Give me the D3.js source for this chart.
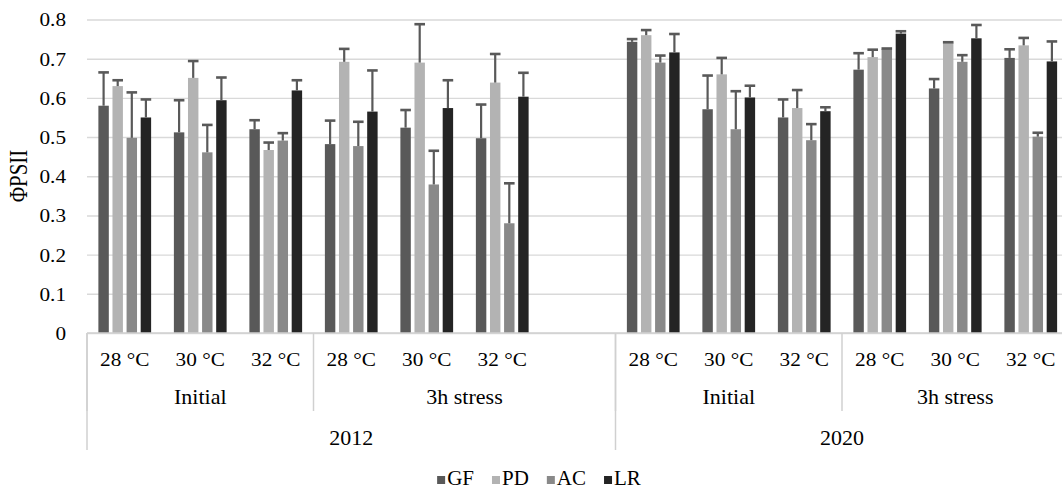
<!DOCTYPE html>
<html>
<head>
<meta charset="utf-8">
<script src="https://cdn.jsdelivr.net/npm/d3@7"></script>
<style>
  body { margin: 0; background: #fff; }
  text { font-family: 'Liberation Serif', 'Times New Roman', serif; fill: #000; }
</style>
</head>
<body>
<div id="chart"></div>
<script>
// categories (the 7th slot is the empty one Excel left in 2012 / 3h stress)
var categories  = ['12I28','12I30','12I32','12S28','12S30','12S32','12Sx','20I28','20I30','20I32','20S28','20S30','20S32'];
var tempLabels  = ['28 °C','30 °C','32 °C','28 °C','30 °C','32 °C','','28 °C','30 °C','32 °C','28 °C','30 °C','32 °C'];
var phaseLabels = ['Initial','3h stress','Initial','3h stress'];
var phaseSpans  = [3, 4, 3, 3];
var yearLabels  = ['2012','2020'];
var yearSpans   = [7, 6];
var yTicks      = [0, 0.1, 0.2, 0.3, 0.4, 0.5, 0.6, 0.7, 0.8];

var seriesNames = ['GF','PD','AC','LR'];
var seriesColors = ['#595959','#b3b3b3','#898989','#242424'];

var GF    = [0.580,0.512,0.520,0.482,0.524,0.497,null,0.743,0.571,0.550,0.672,0.624,0.702];
var GFerr = [0.085,0.082,0.023,0.060,0.045,0.086,null,0.007,0.086,0.046,0.042,0.024,0.022];
var PD    = [0.630,0.651,0.467,0.692,0.690,0.639,null,0.760,0.660,0.574,0.704,0.741,0.734];
var PDerr = [0.015,0.043,0.019,0.033,0.098,0.073,null,0.013,0.042,0.046,0.019,0.001,0.019];
var AC    = [0.498,0.461,0.491,0.477,0.379,0.280,null,0.690,0.520,0.492,0.725,0.692,0.501];
var ACerr = [0.116,0.070,0.019,0.062,0.086,0.102,null,0.018,0.097,0.041,0.001,0.017,0.010];
var LR    = [0.550,0.594,0.619,0.565,0.574,0.603,null,0.716,0.601,0.566,0.764,0.752,0.693];
var LRerr = [0.046,0.058,0.026,0.105,0.071,0.061,null,0.047,0.030,0.010,0.006,0.034,0.051];

var values = [GF, PD, AC, LR];
var errors = [GFerr, PDerr, ACerr, LRerr];

var width  = 1062;
var height = 490;

var svg = d3.select('#chart').append('svg')
            .attr('width', width)
            .attr('height', height);

var x = d3.scaleBand().domain(categories).range([87, 1068.5]).paddingInner(0).paddingOuter(0);
var bw = x.bandwidth();
var cluster = bw * 0.747;
var xs = d3.scaleBand().domain(seriesNames).range([(bw - cluster) / 2, (bw + cluster) / 2]);
var barW = xs.bandwidth() * 0.74;
var y = d3.scaleLinear().domain([0, 0.8]).range([333, 19.5]);

// gridlines + y labels
var yAxis = d3.axisLeft(y).tickValues(yTicks)
              .tickSizeInner(-(x.range()[1] - x.range()[0]))
              .tickSizeOuter(0)
              .tickFormat(function(d) { return d === 0 ? '0' : d.toFixed(1); });
var gy = svg.append('g').attr('transform', 'translate(87,0)').call(yAxis);
gy.select('.domain').remove();
gy.selectAll('.tick line').attr('stroke', '#d9d9d9').attr('stroke-width', 1.4);
gy.selectAll('.tick text')
  .attr('x', null).attr('dy', null)
  .attr('font-size', 18)
  .attr('text-anchor', 'end')
  .attr('dominant-baseline', 'central')
  .attr('transform', 'translate(-21,0) scale(1.18,1)');

// bars
var rows = [];
categories.forEach(function(c, i) {
  seriesNames.forEach(function(s, j) {
    if (values[j][i] != null) rows.push({cat: c, s: s, j: j, v: values[j][i], e: errors[j][i]});
  });
});

svg.append('g').selectAll('rect').data(rows).enter()
   .append('rect')
   .attr('x', function(d) { return x(d.cat) + xs(d.s) + (xs.bandwidth() - barW) / 2; })
   .attr('y', function(d) { return y(d.v); })
   .attr('width', barW)
   .attr('height', function(d) { return y(0) - y(d.v); })
   .attr('fill', function(d) { return seriesColors[d.j]; });

// error bars (plus only)
var eb = svg.append('g').attr('stroke', '#595959').attr('stroke-width', 2.2);
var cx = function(d) { return x(d.cat) + xs(d.s) + xs.bandwidth() / 2; };
eb.selectAll('line.stem').data(rows).enter().append('line')
  .attr('class', 'stem')
  .attr('x1', cx).attr('x2', cx)
  .attr('y1', function(d) { return y(d.v); })
  .attr('y2', function(d) { return y(d.v + d.e); });
eb.selectAll('line.cap').data(rows).enter().append('line')
  .attr('class', 'cap')
  .attr('x1', function(d) { return cx(d) - 5.3; })
  .attr('x2', function(d) { return cx(d) + 5.3; })
  .attr('y1', function(d) { return y(d.v + d.e); })
  .attr('y2', function(d) { return y(d.v + d.e); })
  .attr('stroke-width', 2.6);

// category axis
var axisColor = '#d0d0d0';
var base = y(0);
svg.append('line').attr('x1', x.range()[0]).attr('x2', x.range()[1])
   .attr('y1', base).attr('y2', base)
   .attr('stroke', axisColor).attr('stroke-width', 1.5);

function label(txt, px, py, size, sx) {
  svg.append('text')
     .attr('transform', 'translate(' + px + ',' + py + ') scale(' + sx + ',1)')
     .attr('text-anchor', 'middle')
     .attr('font-size', size)
     .text(txt);
}

tempLabels.forEach(function(t, i) {
  if (t) label(t, x(categories[i]) + bw / 2, 366, 19, 1.12);
});

// phase level
var start = 0;
phaseLabels.forEach(function(p, k) {
  var x0 = x(categories[start]);
  var x1 = x0 + phaseSpans[k] * bw;
  label(p, (x0 + x1) / 2, 404, 22, 1);
  svg.append('line').attr('x1', x0).attr('x2', x0).attr('y1', base).attr('y2', 411)
     .attr('stroke', axisColor).attr('stroke-width', 1.5);
  start += phaseSpans[k];
});

// year level
start = 0;
yearLabels.forEach(function(yr, k) {
  var x0 = x(categories[start]);
  var x1 = x0 + yearSpans[k] * bw;
  label(yr, (x0 + x1) / 2, 445, 22, 1);
  svg.append('line').attr('x1', x0).attr('x2', x0).attr('y1', base).attr('y2', 450)
     .attr('stroke', axisColor).attr('stroke-width', 1.5);
  start += yearSpans[k];
});

// y title
svg.append('text')
   .attr('transform', 'translate(27,176) rotate(-90) scale(1,1.18)')
   .attr('text-anchor', 'middle')
   .attr('font-size', 21)
   .text('ΦPSII');

// legend
var lg = svg.append('g');
var lx = 0;
seriesNames.forEach(function(s, j) {
  lg.append('rect').attr('x', lx).attr('y', 476).attr('width', 8).attr('height', 8)
    .attr('fill', seriesColors[j]);
  var t = lg.append('text')
    .attr('x', lx + 10)
    .attr('y', 485)
    .attr('font-size', 21)
    .text(s);
  lx += 10 + t.node().getComputedTextLength() + 18;
});
lx -= 18;
lg.attr('transform', 'translate(' + (539 - lx / 2) + ',0)');
</script>
</body>
</html>
